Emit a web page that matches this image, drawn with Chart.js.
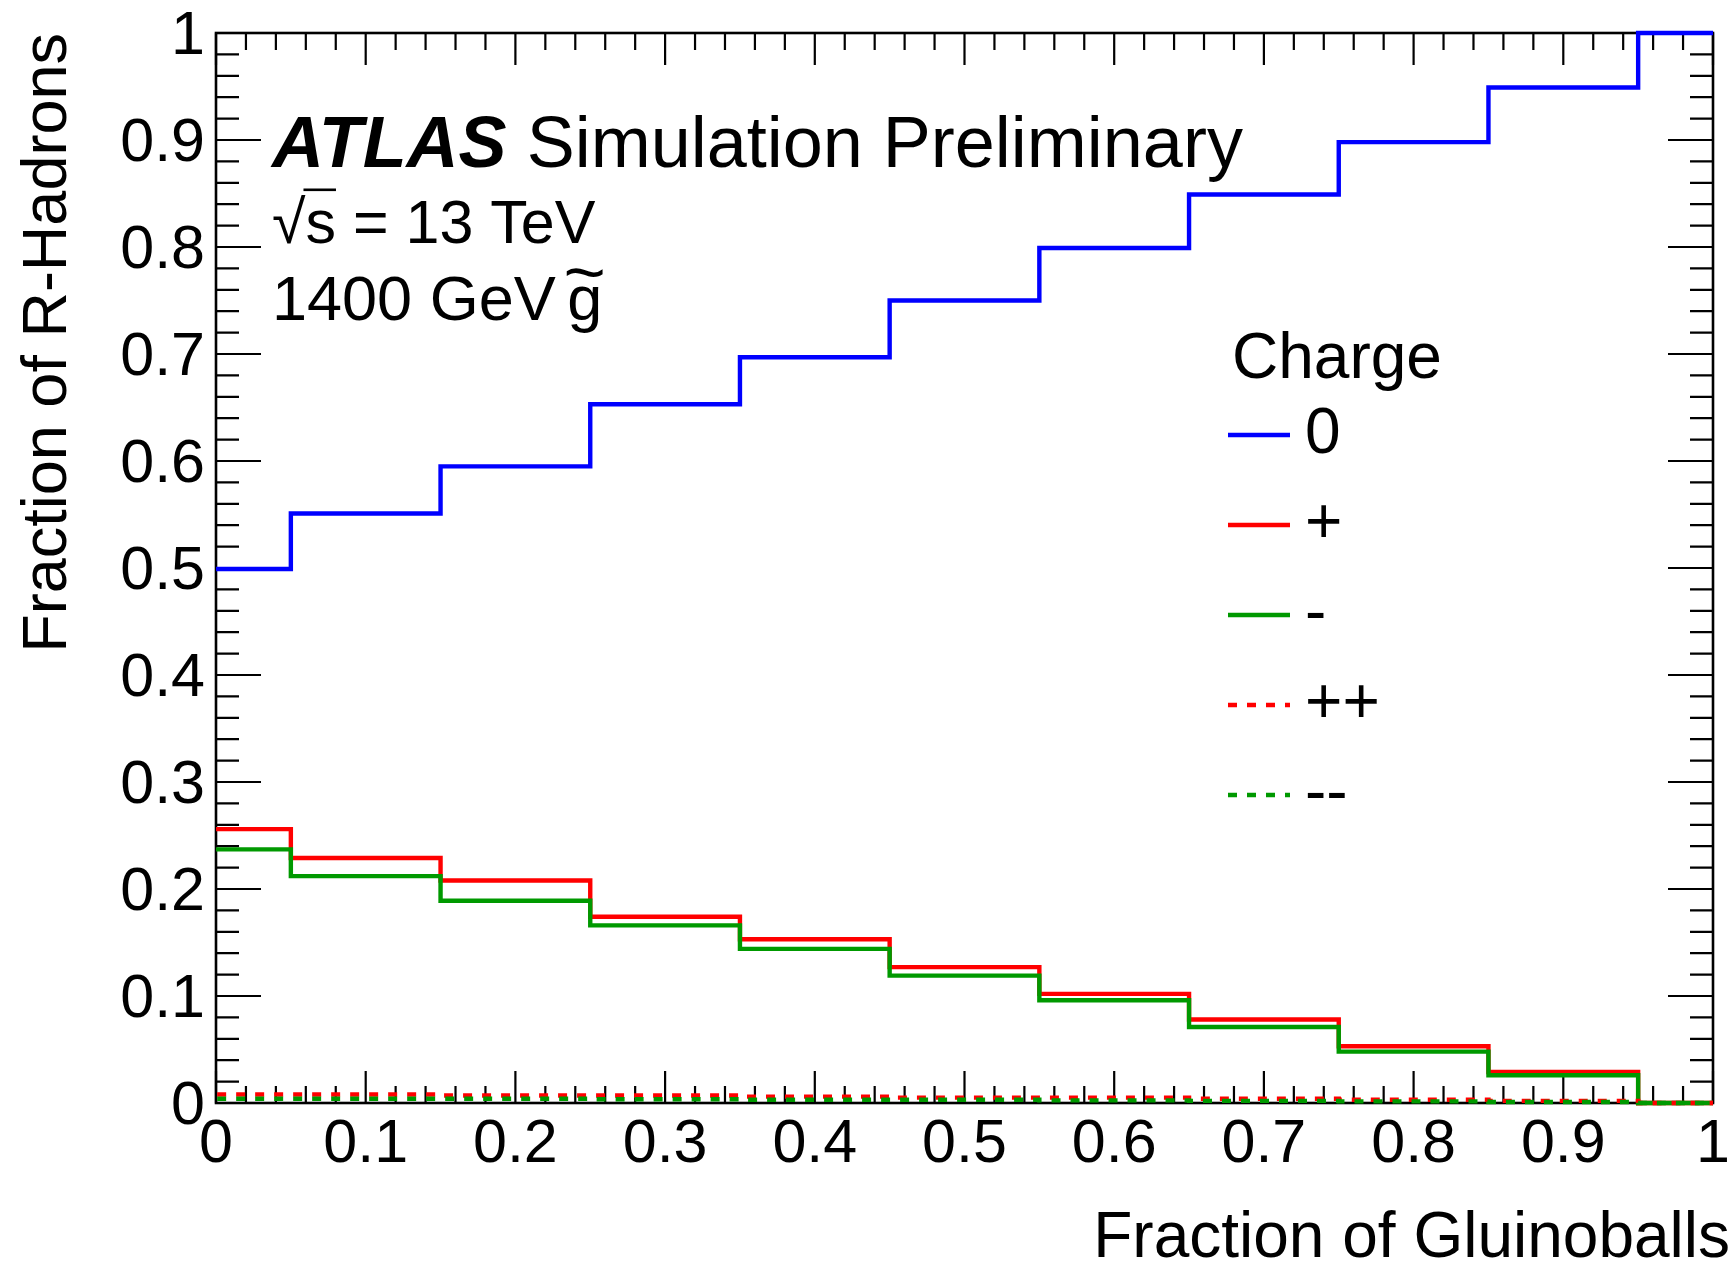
<!DOCTYPE html>
<html>
<head>
<meta charset="utf-8">
<title>R-hadron charge fractions vs gluinoball fraction</title>
<script src="https://cdn.jsdelivr.net/npm/chart.js@4.4.1/dist/chart.umd.min.js"></script>
<style>
  html, body { margin: 0; padding: 0; background: #fff; }
  canvas { display: block; }
</style>
</head>
<body>
<canvas id="chart" width="1736" height="1264"></canvas>
<script>
// gluinoball fraction bins: width 0.1, centred on the tick values
const binCenters = [0, 0.1, 0.2, 0.3, 0.4, 0.5, 0.6, 0.7, 0.8, 0.9, 1.0];
const binWidth = 0.1;

// fraction of R-hadrons per charge state
const charge0  = [0.499, 0.551, 0.595, 0.653, 0.697, 0.750, 0.799, 0.849, 0.898, 0.949, 1.0];
const chargeP  = [0.256, 0.229, 0.208, 0.174, 0.153, 0.127, 0.102, 0.078, 0.053, 0.029, 0];
const chargeM  = [0.237, 0.212, 0.189, 0.166, 0.144, 0.119, 0.096, 0.071, 0.048, 0.026, 0];
const chargePP = [0.008, 0.008, 0.007, 0.007, 0.006, 0.005, 0.005, 0.004, 0.003, 0.002, 0];
const chargeMM = [0.004, 0.004, 0.004, 0.0035, 0.003, 0.003, 0.0025, 0.002, 0.0015, 0.001, 0];

const legendTitle = "Charge";
const legendLabels = ["0", "+", "-", "++", "--"];
const xTitle = "Fraction of Gluinoballs";
const yTitle = "Fraction of R-Hadrons";

const FONT = "'Liberation Sans', Arial, Helvetica, sans-serif";

// turn bin contents into step points (left edges + closing right edge)
function histPoints(vals) {
  const pts = vals.map((v, i) => ({ x: binCenters[i] - binWidth / 2, y: v }));
  pts.push({ x: binCenters[binCenters.length - 1] + binWidth / 2, y: vals[vals.length - 1] });
  return pts;
}

function histDataset(label, vals, color, dash, order) {
  return {
    label: label,
    data: histPoints(vals),
    borderColor: color,
    borderWidth: 4.4,
    borderDash: dash,
    borderCapStyle: "butt",
    borderJoinStyle: "miter",
    stepped: true,
    pointRadius: 0,
    fill: false,
    order: order,
    clip: { left: 0, right: 0, top: 3, bottom: 3 },
  };
}

// ROOT-style frame with inward ticks on all four sides
const frameTicks = {
  id: "frameTicks",
  beforeDatasetsDraw(chart) {
    const { ctx, chartArea: a, scales } = chart;
    const xs = scales.x, ys = scales.y;
    ctx.save();
    ctx.strokeStyle = "#000";
    ctx.lineWidth = 2.2;
    ctx.beginPath();
    for (let i = 0; i <= 50; i++) {
      const v = i / 50;
      const major = i % 5 === 0;
      const px = xs.getPixelForValue(v);
      const lx = major ? 32 : 17;
      ctx.moveTo(px, a.bottom); ctx.lineTo(px, a.bottom - lx);
      ctx.moveTo(px, a.top); ctx.lineTo(px, a.top + lx);
      const py = ys.getPixelForValue(v);
      const ly = major ? 45 : 23;
      ctx.moveTo(a.left, py); ctx.lineTo(a.left + ly, py);
      ctx.moveTo(a.right, py); ctx.lineTo(a.right - ly, py);
    }
    ctx.stroke();
    ctx.lineWidth = 2.6;
    ctx.strokeRect(a.left, a.top, a.right - a.left, a.bottom - a.top);
    ctx.restore();
  },
  afterDraw(chart) {
    const { ctx, chartArea: a } = chart;
    ctx.save();
    ctx.fillStyle = "#000";
    ctx.textBaseline = "alphabetic";

    // axis titles
    ctx.font = `64px ${FONT}`;
    ctx.textAlign = "right";
    ctx.fillText(xTitle, 1730, 1257);
    ctx.save();
    ctx.translate(66, a.top);
    ctx.rotate(-Math.PI / 2);
    ctx.font = `63px ${FONT}`;
    ctx.fillText(yTitle, 0, 0);
    ctx.restore();

    // ATLAS label
    ctx.textAlign = "left";
    ctx.font = `italic bold 72px ${FONT}`;
    ctx.fillText("ATLAS", 272, 167);
    const wAtlas = ctx.measureText("ATLAS").width;
    ctx.font = `72px ${FONT}`;
    ctx.fillText("Simulation Preliminary", 272 + wAtlas + ctx.measureText(" ").width, 167);

    // sqrt(s) = 13 TeV
    ctx.font = `61px ${FONT}`;
    const rad = "\u221A";
    ctx.fillText(rad, 272, 243);
    const wRad = ctx.measureText(rad).width;
    ctx.fillText("s", 272 + wRad, 243);
    const wS = ctx.measureText("s").width;
    ctx.fillRect(272 + wRad - 2, 188.5, wS + 2, 2.6);
    ctx.fillText(" = 13 TeV", 272 + wRad + wS, 243);

    // 1400 GeV gluino
    ctx.font = `63px ${FONT}`;
    const txt = "1400 GeV ";
    ctx.fillText(txt, 272, 320);
    const gx = 272 + ctx.measureText(txt).width - 6;
    ctx.fillText("g", gx, 320);
    const wg = ctx.measureText("g").width;
    ctx.save();
    ctx.translate(gx + wg / 2, 296);
    ctx.scale(1.15, 1.1);
    ctx.textAlign = "center";
    ctx.fillText("~", 0, 0);
    ctx.restore();

    // legend
    ctx.font = `64px ${FONT}`;
    ctx.fillText(legendTitle, 1232, 378);
    chart.data.datasets.forEach((ds, i) => {
      const y = 435 + i * 90;
      ctx.save();
      ctx.strokeStyle = ds.borderColor;
      ctx.lineWidth = 4.4;
      ctx.setLineDash(ds.borderDash);
      ctx.beginPath();
      ctx.moveTo(1228, y);
      ctx.lineTo(1290, y);
      ctx.stroke();
      ctx.restore();
      ctx.textBaseline = "middle";
      ctx.fillText(legendLabels[i], 1305, y);
    });
    ctx.restore();
  },
};

const tickFont = { family: FONT, size: 61 };

new Chart(document.getElementById("chart"), {
  type: "line",
  data: {
    datasets: [
      histDataset("0", charge0, "#0000ff", [], 5),
      histDataset("+", chargeP, "#ff0000", [], 4),
      histDataset("-", chargeM, "#009900", [], 3),
      histDataset("++", chargePP, "#ff0000", [9, 10], 2),
      histDataset("--", chargeMM, "#009900", [9, 10], 1),
    ],
  },
  options: {
    responsive: false,
    animation: false,
    events: [],
    layout: { padding: { top: 33, right: 23, left: 0, bottom: 0 } },
    plugins: { legend: { display: false }, tooltip: { enabled: false } },
    scales: {
      x: {
        type: "linear",
        min: 0,
        max: 1,
        grid: { display: false, drawTicks: false },
        border: { display: false },
        ticks: {
          stepSize: 0.1,
          font: tickFont,
          color: "#000",
          padding: 6,
          maxRotation: 0,
          autoSkip: false,
          callback: (v) => String(+v.toFixed(2)),
        },
        afterFit: (s) => {
          s.height = 161;
          s.paddingLeft = 0;
          s.paddingRight = 0;
        },
      },
      y: {
        type: "linear",
        min: 0,
        max: 1,
        grid: { display: false, drawTicks: false },
        border: { display: false },
        ticks: {
          stepSize: 0.1,
          font: tickFont,
          color: "#000",
          padding: 11,
          labelOffset: 4,
          autoSkip: false,
          callback: (v) => String(+v.toFixed(2)),
        },
        afterFit: (s) => {
          s.width = 216;
          s.paddingTop = 0;
          s.paddingBottom = 0;
        },
      },
    },
  },
  plugins: [frameTicks],
});
</script>
</body>
</html>
